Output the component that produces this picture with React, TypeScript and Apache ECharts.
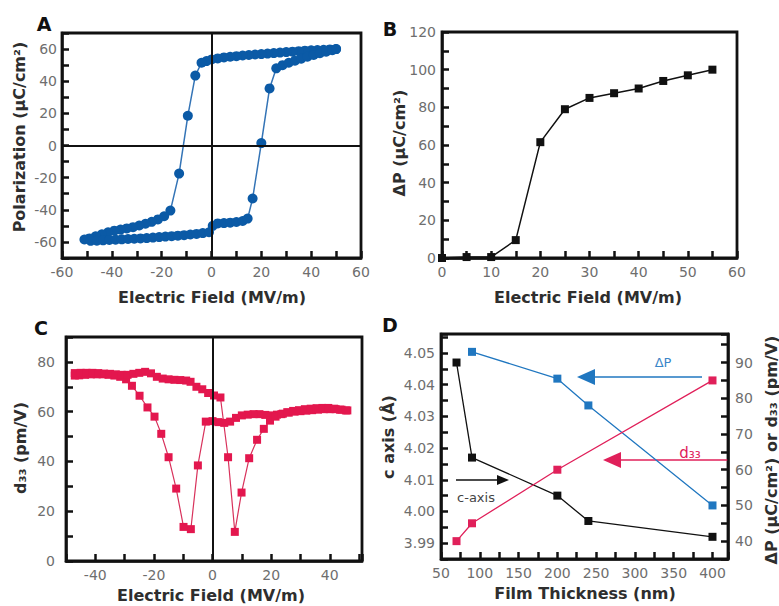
import React, { useEffect, useRef } from "react";
import * as echarts from "echarts";

const FONT = "DejaVu Sans";

// Panel A: polarization hysteresis (field MV/m, polarization uC/cm2)
const polarDown: [number, number][] = [
  [50, 60], [47.5, 59.8], [45, 59.6], [42.5, 59.4], [40, 59.2], [37.5, 59], [35, 58.7], [32.5, 58.4],
  [30, 58.1], [27.5, 57.8], [25, 57.5], [22.5, 57.2], [20, 56.9], [17.5, 56.6], [15, 56.3], [12.5, 56],
  [10, 55.6], [7.5, 55.2], [5, 54.8], [2.5, 54.2], [0, 53.5], [-2, 52.5], [-4, 51.5], [-6.5, 43.5],
  [-9.5, 18.5], [-13, -17.5], [-16.5, -40.5], [-19, -44], [-21.5, -46], [-24, -47.5], [-26.5, -48.7],
  [-29, -49.8], [-31.5, -50.8], [-34, -51.6], [-36.5, -52.3], [-39, -53], [-41.5, -54], [-44, -55.2],
  [-46.5, -56.5], [-49, -57.8], [-51, -58.5],
];
const polarUp: [number, number][] = [
  [-51, -58.5], [-48.5, -59.3], [-46, -59.2], [-43.5, -59], [-41, -58.8], [-38.5, -58.6], [-36, -58.4],
  [-33.5, -58.2], [-31, -58], [-28.5, -57.8], [-26, -57.6], [-23.5, -57.3], [-21, -57], [-18.5, -56.7],
  [-16, -56.4], [-13.5, -56.1], [-11, -55.8], [-8.5, -55.4], [-6, -55], [-3.5, -54.5], [-1, -54],
  [0.5, -50], [2.5, -48.5], [5, -48.3], [7.5, -48], [10, -47.6], [12.5, -47], [14.5, -45.5], [16.5, -33],
  [20, 1.5], [23.3, 35.5], [26, 48], [28.5, 50], [31, 51.5], [33.5, 52.8], [36, 54], [38.5, 55.2],
  [41, 56.3], [43.5, 57.4], [46, 58.4], [48.5, 59.3], [50, 60],
];

// Panel B: delta P vs field
const fieldB = [0, 5, 10, 15, 20, 25, 30, 35, 40, 45, 50, 55];
const deltaPB = [0, 0.5, 0.5, 9.5, 61.5, 79, 85, 87.5, 90, 94, 97, 100];

// Panel C: d33 butterfly loop
const d33Down: [number, number][] = [
  [46, 60.5], [44, 60.8], [42, 61], [40, 61], [38, 61], [36, 60.8], [34, 60.6], [32, 60.4], [30, 60.2],
  [28, 60], [26, 59.6], [24, 59.2], [22, 58.8], [20, 58.5], [18, 58.7], [16, 59], [14, 59], [12, 58.8],
  [10, 58.5], [8, 57.5], [6, 56], [4, 55.5], [2, 55.8], [0, 56.2], [-2.3, 56], [-5, 38.4], [-7.4, 12.8],
  [-9.9, 13.7], [-12.4, 29.1], [-15, 41.7], [-17.5, 51.1], [-19.8, 58], [-22.2, 61.7], [-24.9, 66.4],
  [-27.5, 70.4], [-29.5, 73], [-31.5, 74], [-33.5, 74.5], [-35.5, 74.8], [-37.5, 75], [-39.5, 75],
  [-41.5, 75], [-43.5, 74.8], [-45.5, 74.6], [-47, 74.5],
];
const d33Up: [number, number][] = [
  [-47, 75.5], [-45, 75.6], [-43, 75.6], [-41, 75.6], [-39, 75.5], [-37, 75.3], [-35, 75.2], [-33, 75],
  [-31, 74.8], [-29, 74.8], [-27, 75.2], [-25, 75.6], [-23, 76], [-21, 75.4], [-19, 74], [-17, 73.3],
  [-15, 73], [-13, 72.8], [-11, 72.7], [-9, 72.5], [-7.5, 72], [-5.5, 70], [-3.5, 69], [-1.5, 67.5],
  [0.5, 66.5], [2.7, 65.7], [5.3, 41.7], [7.6, 11.7], [9.9, 27.5], [12.5, 41.3], [15.2, 48.7],
  [17.5, 53.1], [19.6, 56.4], [21.5, 58], [23.5, 59], [25.5, 59.8], [27.5, 60.3], [29.5, 60.6],
  [31.5, 61], [33.5, 61.2], [35.5, 61.4], [37.5, 61.5], [39.5, 61.5], [41.5, 61.2], [43.5, 60.8], [45.5, 60.5],
];

// Panel D: film thickness dependence
const thickC = [70, 90, 200, 240, 400];
const cAxisVals = [4.047, 4.017, 4.005, 3.997, 3.992];
const thickP = [90, 200, 240, 400];
const deltaPD = [93, 85.5, 78, 50];
const thickD = [70, 90, 200, 400];
const d33D = [40, 45, 60, 85];

const INK = "#111";
const LABEL = "#6e6e6e";
const TITLE = "#2e2e2e";
const BLUE_A = "#0b5aa6";
const RED_C = "#e3174e";
const BLUE_D = "#2077c0";
const RED_D = "#e0205a";

const zip = (xs: number[], ys: number[]) => xs.map((x, i) => [x, ys[i]]);

function axis(gridIndex: number, o: any) {
  return {
    type: "value",
    gridIndex,
    axisLine: { show: true, onZero: false, lineStyle: { color: INK, width: 2.5 } },
    axisTick: { show: true, inside: true, length: 7, lineStyle: { color: INK, width: 2.5 } },
    splitLine: { show: false },
    ...o,
    axisLabel: { color: LABEL, fontFamily: FONT, fontSize: 14, ...(o.axisLabel || {}) },
  };
}

const every = (step: number, lo: number, hi: number) => (v: number) => {
  const r = Math.round(v * 1000);
  return r % Math.round(step * 1000) === 0 && v >= lo - 1e-9 && v <= hi + 1e-9 ? String(Math.round(v)) : "";
};

function gridBox(left: number, top: number, width: number, height: number) {
  return { left, top, width, height, containLabel: false, show: true, borderColor: INK, borderWidth: 2.8, backgroundColor: "transparent" };
}

function title(text: string, x: number, y: number, rotate = false, extra: any = {}) {
  return {
    type: "text",
    x,
    y,
    rotation: rotate ? Math.PI / 2 : 0,
    style: { text, fontFamily: FONT, fontSize: 16, fontWeight: "bold", fill: TITLE, align: "center", verticalAlign: "middle", ...extra },
  };
}

function arrow(x1: number, x2: number, y: number, tipX: number, baseX: number, half: number, color: string, lw: number) {
  return [
    { type: "line", shape: { x1, y1: y, x2, y2: y }, style: { stroke: color, lineWidth: lw } },
    { type: "polygon", shape: { points: [[tipX, y], [baseX, y - half], [baseX, y + half]] }, style: { fill: color } },
  ];
}

export default function App() {
  const ref = useRef<HTMLDivElement>(null);
  useEffect(() => {
    const chart = echarts.init(ref.current!, null, { renderer: "svg" });
    const option: any = {
      animation: false,
      grid: [
        gridBox(62, 33, 299, 225),
        gridBox(442, 32, 295, 226),
        gridBox(66, 337, 296, 224),
        gridBox(441, 334, 287, 225),
      ],
      xAxis: [
        axis(0, { min: -60, max: 60, interval: 10, axisLabel: { margin: 7, formatter: every(20, -60, 60) } }),
        axis(1, { min: 0, max: 60, interval: 5, axisLabel: { margin: 7, formatter: every(10, 0, 60) } }),
        axis(2, { min: -50, max: 51, interval: 10, axisLabel: { margin: 7, formatter: every(20, -40, 40) } }),
        axis(3, { min: 50, max: 420, interval: 25, axisLabel: { margin: 7, formatter: every(50, 50, 400) } }),
      ],
      yAxis: [
        axis(0, { min: -70, max: 70, interval: 10, axisLabel: { margin: 5, formatter: every(20, -60, 60) } }),
        axis(1, { min: 0, max: 120, interval: 10, axisLabel: { margin: 6, formatter: every(20, 0, 120) } }),
        axis(2, { min: 0, max: 90, interval: 10, axisLabel: { margin: 11, formatter: every(20, 0, 80) } }),
        axis(3, {
          min: 3.985, max: 4.056, interval: 0.005,
          axisLabel: { margin: 6, formatter: (v: number) => (Math.round(v * 1000) % 10 === 0 ? v.toFixed(2) : "") },
        }),
        axis(3, { position: "right", min: 35, max: 98, interval: 5, axisLabel: { margin: 7, formatter: every(10, 40, 90) } }),
      ],
      series: [
        {
          type: "line", xAxisIndex: 0, yAxisIndex: 0, data: [...polarDown, ...polarUp.slice(1)],
          symbol: "circle", symbolSize: 10, itemStyle: { color: BLUE_A }, lineStyle: { color: "#3474b6", width: 1.5 },
          markLine: {
            silent: true, symbol: ["none", "none"], label: { show: false },
            lineStyle: { color: INK, width: 2, type: "solid" }, data: [{ xAxis: 0 }, { yAxis: 0 }],
          },
          z: 3,
        },
        {
          type: "line", xAxisIndex: 1, yAxisIndex: 1, data: zip(fieldB, deltaPB),
          symbol: "rect", symbolSize: 8, itemStyle: { color: INK }, lineStyle: { color: INK, width: 1.5 },
        },
        {
          type: "line", xAxisIndex: 2, yAxisIndex: 2, data: [...d33Down, ...d33Up],
          symbol: "rect", symbolSize: 8, itemStyle: { color: RED_C }, lineStyle: { color: "#d8315b", width: 1.2 },
          markLine: {
            silent: true, symbol: ["none", "none"], label: { show: false },
            lineStyle: { color: INK, width: 2, type: "solid" }, data: [{ xAxis: 0 }],
          },
        },
        {
          type: "line", xAxisIndex: 3, yAxisIndex: 3, data: zip(thickC, cAxisVals),
          symbol: "rect", symbolSize: 8, itemStyle: { color: INK }, lineStyle: { color: INK, width: 1.3 },
        },
        {
          type: "line", xAxisIndex: 3, yAxisIndex: 4, data: zip(thickP, deltaPD),
          symbol: "rect", symbolSize: 8, itemStyle: { color: BLUE_D }, lineStyle: { color: BLUE_D, width: 1.3 },
        },
        {
          type: "line", xAxisIndex: 3, yAxisIndex: 4, data: zip(thickD, d33D),
          symbol: "rect", symbolSize: 8, itemStyle: { color: RED_D }, lineStyle: { color: RED_D, width: 1.3 },
        },
      ],
      graphic: [
        title("A", 44, 24, false, { fontSize: 19, fill: INK }),
        title("B", 390, 29, false, { fontSize: 19, fill: INK }),
        title("C", 41, 328, false, { fontSize: 19, fill: INK }),
        title("D", 390, 325, false, { fontSize: 19, fill: INK }),
        title("Polarization (μC/cm²)", 19, 137, true),
        title("Electric Field (MV/m)", 212, 297),
        title("ΔP (μC/cm²)", 399, 143, true),
        title("Electric Field (MV/m)", 588, 297),
        title("d₃₃ (pm/V)", 20, 448, true),
        title("Electric Field (MV/m)", 211, 595),
        title("c axis (Å)", 388, 437, true),
        title("ΔP (μC/cm²) or d₃₃ (pm/V)", 771, 450, true),
        title("Film Thickness (nm)", 585, 593),
        ...arrow(595, 702, 377, 577, 595, 8, BLUE_D, 1.6),
        ...arrow(621, 728, 460, 603, 621, 8, RED_D, 1.6),
        ...arrow(456, 498, 480, 509, 497, 5, INK, 1.6),
        { type: "text", x: 663, y: 362, style: { text: "ΔP", fontFamily: FONT, fontSize: 13, fill: "#3a86c8", align: "center", verticalAlign: "middle" } },
        { type: "text", x: 690, y: 453, style: { text: "d₃₃", fontFamily: FONT, fontSize: 15, fill: RED_D, align: "center", verticalAlign: "middle" } },
        { type: "text", x: 476, y: 497, style: { text: "c-axis", fontFamily: FONT, fontSize: 13, fill: "#444", align: "center", verticalAlign: "middle" } },
      ],
    };
    chart.setOption(option);
    return () => chart.dispose();
  }, []);
  return <div ref={ref} style={{ position: "fixed", left: 0, top: 0, width: 779, height: 606, background: "#fff" }} />;
}
